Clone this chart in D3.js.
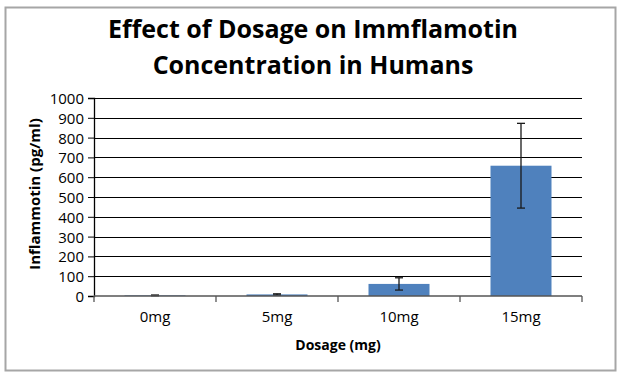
<!DOCTYPE html>
<html>
<head>
<meta charset="utf-8">
<script src="https://cdn.jsdelivr.net/npm/d3@7"></script>
<style>
  body { margin: 0; background: #fff; }
  text { font-family: "Open Sans", sans-serif; fill: #000; }
</style>
</head>
<body>
<div id="vis-container"></div>
<script>
const width = 622,
      height = 377,
      margin = {top: 98, bottom: 81, left: 94, right: 40};

// values
var dosages = ["0mg", "5mg", "10mg", "15mg"];
var means = [3, 8, 61, 658];
var errors = [2, 3, 31, 214];
var yTicks = [0, 100, 200, 300, 400, 500, 600, 700, 800, 900, 1000];

var titleLines = ["Effect of Dosage on Immflamotin", "Concentration in Humans"];
var xTitle = "Dosage (mg)";
var yTitle = "Inflammotin (pg/ml)";

var data = dosages.map(function(d, i) {
    return {dose: d, mean: means[i], err: errors[i]};
});

var svg = d3.select("#vis-container").append("svg")
    .attr("width", width)
    .attr("height", height);

// chart frame
svg.append("rect")
    .attr("x", 5.5).attr("y", 7.5)
    .attr("width", 610).attr("height", 363)
    .attr("fill", "#fff")
    .attr("stroke", "#a6a6a6")
    .attr("stroke-width", 2);

// ******* Scales *******
var x = d3.scaleBand().domain(dosages).range([margin.left, width - margin.right]).paddingInner(0.5).paddingOuter(0.25);
var xTickScale = d3.scaleLinear().domain([0, dosages.length]).range([margin.left, width - margin.right]);
var y = d3.scaleLinear().domain([0, 1000]).range([height - margin.bottom, margin.top]);

// gridlines
svg.append("g")
    .selectAll("line")
    .data(yTicks.slice(1))
    .enter().append("line")
    .attr("x1", margin.left).attr("x2", width - margin.right)
    .attr("y1", function(d) { return Math.round(y(d)) + 0.5; })
    .attr("y2", function(d) { return Math.round(y(d)) + 0.5; })
    .attr("stroke", "#000")
    .attr("stroke-width", 1.2);

// bars
svg.append("g")
    .selectAll("rect")
    .data(data)
    .enter().append("rect")
    .attr("x", function(d) { return x(d.dose); })
    .attr("y", function(d) { return y(d.mean); })
    .attr("width", x.bandwidth())
    .attr("height", function(d) { return y(0) - y(d.mean); })
    .attr("fill", "#4f81bd");

// error bars
var eb = svg.append("g").selectAll("g")
    .data(data)
    .enter().append("g")
    .attr("stroke", "#1a1a1a")
    .attr("stroke-width", 1.3);
eb.append("line")
    .attr("x1", function(d) { return x(d.dose) + x.bandwidth() / 2; })
    .attr("x2", function(d) { return x(d.dose) + x.bandwidth() / 2; })
    .attr("y1", function(d) { return y(d.mean + d.err); })
    .attr("y2", function(d) { return y(Math.max(0, d.mean - d.err)); });
[1, -1].forEach(function(s) {
    eb.append("line")
        .attr("x1", function(d) { return x(d.dose) + x.bandwidth() / 2 - 4; })
        .attr("x2", function(d) { return x(d.dose) + x.bandwidth() / 2 + 4; })
        .attr("y1", function(d) { return y(Math.max(0, d.mean + s * d.err)); })
        .attr("y2", function(d) { return y(Math.max(0, d.mean + s * d.err)); });
});

// y axis
var yAxis = svg.append("g")
    .attr("transform", `translate(${margin.left} 0)`)
    .call(d3.axisLeft(y).tickValues(yTicks).tickFormat(d3.format("d")).tickSize(6).tickPadding(4));
yAxis.select(".domain").attr("stroke", "#000").attr("stroke-width", 1.3);
yAxis.selectAll(".tick line").attr("stroke", "#000");
yAxis.selectAll(".tick text").style("font-size", "15px").attr("fill", "#000").attr("dy", "0.36em");

// x axis with ticks between categories
var xAxis = svg.append("g")
    .attr("transform", `translate(0 ${y(0)})`);
xAxis.append("line")
    .attr("x1", margin.left).attr("x2", width - margin.right)
    .attr("stroke", "#555").attr("stroke-width", 1.3);
xAxis.selectAll(".tk")
    .data(d3.range(dosages.length + 1))
    .enter().append("line")
    .attr("x1", function(d) { return xTickScale(d); })
    .attr("x2", function(d) { return xTickScale(d); })
    .attr("y1", 0).attr("y2", 6)
    .attr("stroke", "#555").attr("stroke-width", 1.3);
xAxis.selectAll("text")
    .data(dosages)
    .enter().append("text")
    .attr("x", function(d) { return x(d) + x.bandwidth() / 2; })
    .attr("y", 26)
    .attr("text-anchor", "middle")
    .style("font-size", "15px")
    .text(function(d) { return d; });

// titles
svg.append("g").selectAll("text")
    .data(titleLines)
    .enter().append("text")
    .attr("x", 313)
    .attr("y", function(d, i) { return 38 + i * 36; })
    .attr("text-anchor", "middle")
    .style("font-size", "25px")
    .style("font-weight", "bold")
    .text(function(d) { return d; });

svg.append("text")
    .attr("x", 338).attr("y", 350)
    .attr("text-anchor", "middle")
    .style("font-size", "14px")
    .style("font-weight", "bold")
    .text(xTitle);

svg.append("text")
    .attr("transform", "translate(40 194) rotate(-90)")
    .attr("text-anchor", "middle")
    .style("font-size", "15px")
    .style("font-weight", "bold")
    .text(yTitle);
</script>
</body>
</html>
